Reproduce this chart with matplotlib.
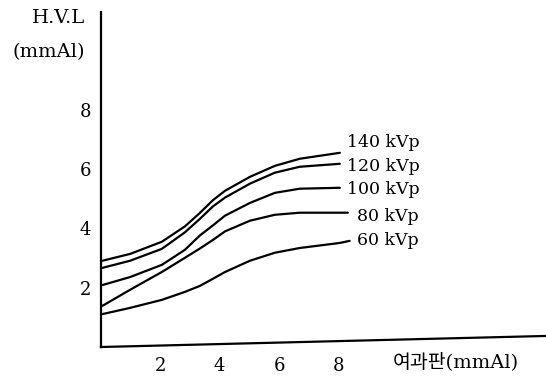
import matplotlib
matplotlib.use("Agg")
import matplotlib.pyplot as plt

# filter thickness (mmAl) where each curve was read
x_hi = [0.05, 0.98, 2.05, 2.83, 3.33, 3.77, 4.18, 5.02, 5.86, 6.70, 8.05]
x_80 = [0.05, 0.98, 2.05, 2.83, 3.33, 3.77, 4.18, 5.02, 5.86, 6.70, 8.32]
x_60 = [0.05, 0.98, 2.05, 2.83, 3.33, 3.77, 4.18, 5.02, 5.86, 6.70, 8.05, 8.38]

hvl_140 = [2.91, 3.14, 3.55, 4.07, 4.52, 4.95, 5.27, 5.74, 6.11, 6.35, 6.55]
hvl_120 = [2.67, 2.91, 3.31, 3.87, 4.32, 4.74, 5.04, 5.51, 5.88, 6.08, 6.18]
hvl_100 = [2.09, 2.36, 2.77, 3.28, 3.76, 4.10, 4.43, 4.86, 5.20, 5.34, 5.37]
hvl_80 = [1.39, 1.93, 2.53, 3.01, 3.32, 3.61, 3.90, 4.26, 4.46, 4.53, 4.53]
hvl_60 = [1.11, 1.32, 1.59, 1.86, 2.06, 2.30, 2.53, 2.91, 3.18, 3.34, 3.51, 3.58]

labels = ["140 kVp", "120 kVp", "100 kVp", "80 kVp", "60 kVp"]
x_ticks = [2, 4, 6, 8]
y_ticks = [2, 4, 6, 8]

serif = ["DejaVu Serif", "Noto Sans CJK KR"]
plt.rcParams["font.family"] = serif

fig = plt.figure(figsize=(5.46, 3.76), dpi=100)
ax = fig.add_axes([0.185, 0.0771, 0.815, 0.891])

series = [(x_hi, hvl_140), (x_hi, hvl_120), (x_hi, hvl_100), (x_80, hvl_80), (x_60, hvl_60)]
for xs, ys in series:
    ax.plot(xs, ys, color="black", lw=1.6, solid_joinstyle="round", solid_capstyle="round")

# curve labels
label_pos = [(8.28, 6.89), (8.28, 6.08), (8.30, 5.30), (8.62, 4.39), (8.62, 3.58)]
for (lx, ly), t in zip(label_pos, labels):
    ax.text(lx, ly, t, fontsize=12.5, ha="left", va="center")

ax.set_xlim(0, 15)
ax.set_ylim(0, 11.3)
ax.set_xticks(x_ticks)
ax.set_yticks(y_ticks)
ax.tick_params(length=0, labelsize=13)
ax.tick_params(axis="y", pad=7)
ax.tick_params(axis="x", pad=7)

for s in ["top", "right", "bottom"]:
    ax.spines[s].set_visible(False)
ax.spines["left"].set_linewidth(1.6)
# slightly tilted baseline as in the print
ax.plot([0, 1], [0, 0.033], transform=ax.transAxes, color="black", lw=1.6, clip_on=False)

fig.text(0.156, 0.952, "H.V.L", fontsize=14, ha="right", va="center")
fig.text(0.156, 0.862, "(mmAl)", fontsize=14, ha="right", va="center")
fig.text(0.72, 0.037, "여과판(mmAl)", fontsize=14, ha="left", va="center")

fig.savefig("out.png", dpi=100)
